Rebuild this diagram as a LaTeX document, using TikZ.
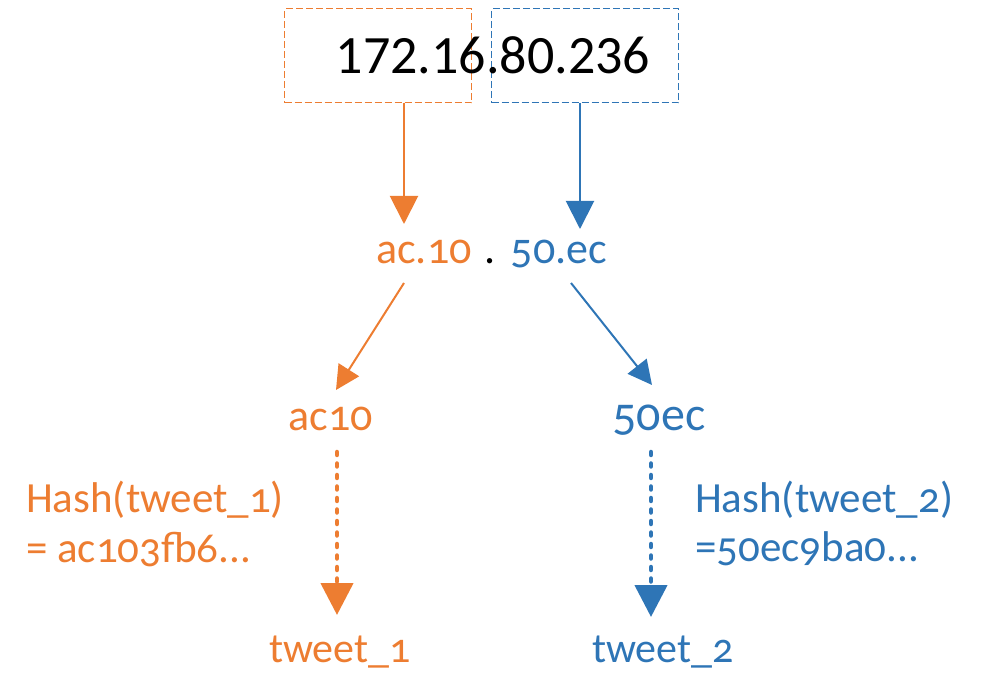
\documentclass[tikz,border=0pt]{standalone}
\usepackage{fontspec}
\setmainfont{Carlito}
\newfontfamily\osf{Carlito}[Numbers=OldStyle]
\usetikzlibrary{arrows.meta}
\definecolor{org}{HTML}{ED7D31}
\definecolor{blu}{HTML}{2E75B6}
\tikzset{
  dbox/.style={dash pattern=on 7pt off 3pt, line width=1pt, minimum width=187pt, minimum height=94pt, inner sep=0pt},
  lbl/.style={anchor=base, inner sep=0pt, font=\osf\fontsize{44}{48}\selectfont},
  tlbl/.style={anchor=base, inner sep=0pt, font=\osf\fontsize{42}{48}\selectfont},
  hlbl/.style={anchor=base west, inner sep=0pt, font=\osf\fontsize{43}{50}\selectfont},
  solidarrow/.style={line width=2pt, -{Triangle[width=28pt,length=28pt]}},
  diagarrow/.style={line width=2pt, -{Triangle[width=24pt,length=24pt]}},
  dotarrow/.style={line width=4.5pt, line cap=round, dash pattern=on 3pt off 8.5pt, -{Triangle[width=32pt,length=32pt]}}
}
\begin{document}
\begin{tikzpicture}[x=1pt,y=-1pt]
\useasboundingbox (0,0) rectangle (989,676);
\node[dbox, draw=org] (ob) at (378,56) {};
\node[dbox, draw=blu] (bb) at (585,56) {};
\node[anchor=base, inner sep=0pt, font=\fontsize{54}{60}\selectfont] (ip) at (493,74) {172.16.80.236};
\node[lbl, text=org] (ac) at (424,264) {ac.10};
\node[lbl] (dot) at (490,264) {.};
\node[lbl, text=blu] (ec) at (559,264) {50.ec};
\node[lbl, text=org] (ac10) at (331,431) {ac10};
\node[lbl, text=blu, font=\osf\fontsize{48}{52}\selectfont] (ec50) at (659,431) {50ec};
\node[hlbl, text=org] (h1a) at (26,512) {Hash(tweet\_1)};
\node[hlbl, text=org] (h1b) at (26,562) {= ac103fb6...};
\node[hlbl, text=blu] (h2a) at (695,512) {Hash(tweet\_2)};
\node[hlbl, text=blu] (h2b) at (695,561) {=50ec9ba0...};
\node[tlbl, text=org] (t1) at (340,662) {tweet\_1};
\node[tlbl, text=blu] (t2) at (663,662) {tweet\_2};
\coordinate (a1s) at (404,103); \coordinate (a1e) at (404,224);
\coordinate (b1s) at (580,103); \coordinate (b1e) at (580,229);
\coordinate (a2s) at (404,283); \coordinate (a2e) at (336,390);
\coordinate (b2s) at (571,283); \coordinate (b2e) at (652,385);
\coordinate (a3s) at (337,452); \coordinate (a3e) at (337,615);
\coordinate (b3s) at (651,452); \coordinate (b3e) at (651,617);
\draw[solidarrow, org] (a1s) -- (a1e);
\draw[solidarrow, blu] (b1s) -- (b1e);
\draw[diagarrow, org] (a2s) -- (a2e);
\draw[diagarrow, blu] (b2s) -- (b2e);
\draw[dotarrow, org] (a3s) -- (a3e);
\draw[dotarrow, blu] (b3s) -- (b3e);
\end{tikzpicture}
\end{document}
